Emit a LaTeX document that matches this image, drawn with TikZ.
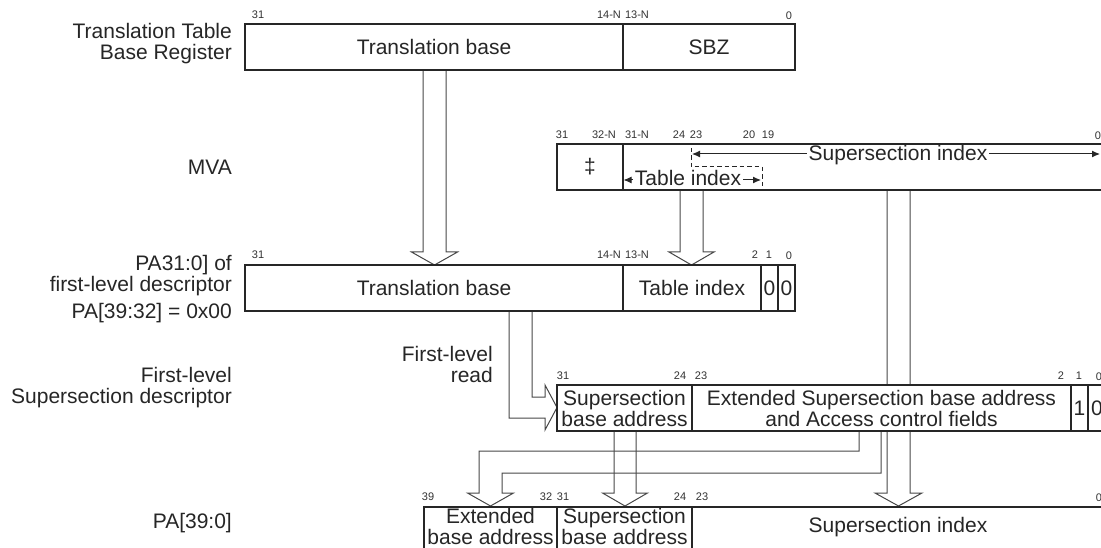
\documentclass[tikz,border=0pt]{standalone}
\usepackage{fontspec}
\setmainfont{Liberation Sans}
\usetikzlibrary{arrows.meta}
\newcommand\bigtxt{\fontsize{21}{21}\selectfont}
\newcommand\bittxt{\fontsize{11}{12}\selectfont}
\begin{document}
\begin{tikzpicture}[x=1pt,y=-1pt,
  field/.style={draw=black!85, fill=white, line width=1.2pt, inner sep=0pt, align=center,
    font=\bigtxt, text=black!85, minimum height=46pt},
  boxtxt/.style={font=\bigtxt, text=black!85, align=center, inner sep=0pt},
  bit/.style={font=\bittxt, text=black!80, inner sep=0pt},
  lab/.style={font=\bigtxt, align=right, anchor=east, inner sep=0pt, text=black!85},
  hollow/.style={draw=black!72, line width=1pt, line join=miter},
  dim/.style={line width=1pt, draw=black!85},
  tip/.style={{Latex[length=8pt,width=7pt]}-{Latex[length=8pt,width=7pt]}},
  dimtxt/.style={fill=white, font=\bigtxt, text=black!85, inner xsep=1.5pt, inner ysep=0pt, anchor=base}]
\useasboundingbox (0,0) rectangle (1101,548);
\clip (0,0) rectangle (1101,548);
\fill[white] (0,0) rectangle (1101,548);

% hollow arrows (behind the boxes)
\draw[hollow] (423,70) -- (423,252) -- (411.5,252) -- (434.5,265) -- (457.5,252) -- (446,252) -- (446,70);
\draw[hollow] (680,190) -- (680,252) -- (669,252) -- (691.5,265) -- (714,252) -- (703,252) -- (703,190);
\draw[hollow] (887,190) -- (887,493) -- (875,493) -- (898.5,506) -- (922,493) -- (910,493) -- (910,190);
\draw[hollow] (509,311) -- (509,418) -- (545,418) -- (545,430) -- (557,407.5) -- (545,385) -- (545,397) -- (532,397) -- (532,311);
\draw[hollow] (614,431) -- (614,493) -- (602.5,493) -- (625,506) -- (647.5,493) -- (636,493) -- (636,431);
\draw[hollow] (859,431) -- (859,451) -- (479,451) -- (479,493) -- (467.5,493) -- (490.5,506) -- (513.5,493) -- (502,493) -- (502,473) -- (881,473) -- (881,431);

% Translation Table Base Register
\node[field, minimum width=378pt] (tb1) at (434,47) {Translation base};
\node[field, minimum width=172pt] (sbz) at (709,47) {SBZ};
% MVA
\node[field, minimum width=66pt] (dag) at (590,167) {‡};
\node[field, minimum width=480pt] (mva) at (863,167) {};
% PA[31:0] of first-level descriptor
\node[field, minimum width=378pt] (tb2) at (434,288) {Translation base};
\node[field, minimum width=138pt] (ti) at (692,288) {Table index};
\node[field, minimum width=17pt] (z1) at (769.5,288) {0};
\node[field, minimum width=17pt] (z0) at (786.5,288) {0};
% First-level supersection descriptor
\node[field, minimum width=135pt] (sba) at (624.5,408) {Supersection\\base address};
\node[field, minimum width=379pt] (ext) at (881.5,408) {Extended Supersection base address\\and Access control fields};
\node[field, minimum width=17pt] (one) at (1079.5,408) {1};
\node[field, minimum width=18pt] (zero) at (1097,408) {0};
% PA[39:0]
\node[field, minimum width=133pt, minimum height=50pt] (eba) at (490.5,532) {};
\node[field, minimum width=135pt, minimum height=50pt] (sbb) at (624.5,532) {};
\node[field, minimum width=412pt, minimum height=50pt] (si) at (898,532) {};
\node[boxtxt] (ebat) at (490.5,526.5) {Extended\\base address};
\node[boxtxt] (sbbt) at (624.5,526.5) {Supersection\\base address};
\node[boxtxt] (sit) at (898,527) {Supersection index};

% MVA field markings
\draw[dim, tip] (692,154) -- (1100,154);
\node[dimtxt, text height=15pt, text depth=4.5pt] (ssi) at (898,160.5) {Supersection index};
\draw[dim, tip] (623.5,180) -- (761,180);
\node[dimtxt, text height=15pt, text depth=1pt] (tix) at (688,185.5) {Table index};
\draw[dim, dashed, dash pattern=on 4.5pt off 3pt] (691,148) -- (691,167) -- (762,167) -- (762,190);

% row labels
\node[lab] (l1) at (232,44) {Translation Table\\Base Register};
\node[lab] (l2) at (232,167) {MVA};
\node[lab] (l3) at (232,276) {PA31:0] of\\first-level descriptor};
\node[lab] (l4) at (232,313) {PA[39:32] = 0x00};
\node[lab] (l5) at (232,388) {First-level\\Supersection descriptor};
\node[lab] (l6) at (232,523) {PA[39:0]};
\node[lab] (l7) at (493,364) {First-level\\read};

% bit numbers
\node[bit] (a1) at (258,15) {31};
\node[bit] (a2) at (609,15) {14-N};
\node[bit] (a3) at (637,15) {13-N};
\node[bit] (a4) at (789,16) {0};

\node[bit] (m1) at (562,135) {31};
\node[bit] (m2) at (604,135) {32-N};
\node[bit] (m3) at (637,135) {31-N};
\node[bit] (m4) at (679,135) {24};
\node[bit] (m5) at (696,135) {23};
\node[bit] (m6) at (749,135) {20};
\node[bit] (m7) at (768,135) {19};
\node[bit] (m8) at (1098,136) {0};

\node[bit] (p1) at (258,255) {31};
\node[bit] (p2) at (609,255) {14-N};
\node[bit] (p3) at (637,255) {13-N};
\node[bit] (p4) at (755,255) {2};
\node[bit] (p5) at (769,255) {1};
\node[bit] (p6) at (789,256) {0};

\node[bit] (d1) at (563,376) {31};
\node[bit] (d2) at (680,376) {24};
\node[bit] (d3) at (701,376) {23};
\node[bit] (d4) at (1061,376) {2};
\node[bit] (d5) at (1079,376) {1};
\node[bit] (d6) at (1099,377) {0};

\node[bit] (q1) at (428,497) {39};
\node[bit] (q2) at (546,497) {32};
\node[bit] (q3) at (563,497) {31};
\node[bit] (q4) at (680,497) {24};
\node[bit] (q5) at (702,497) {23};
\node[bit] (q6) at (1099,498) {0};
\end{tikzpicture}
\end{document}
